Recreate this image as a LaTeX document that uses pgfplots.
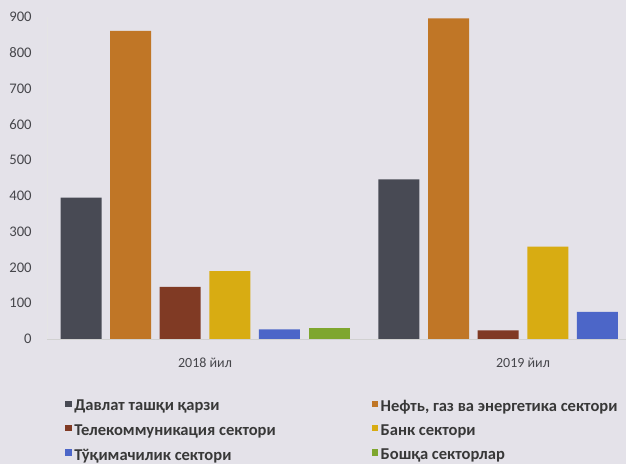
\documentclass[border=0pt]{standalone}
\usepackage{pgfplots}
\pgfplotsset{compat=1.18}
\usepackage{fontspec}
\setmainfont{Carlito}

\definecolor{paper}{RGB}{228,226,233}
\definecolor{txt}{RGB}{70,70,75}
\definecolor{cgray}{RGB}{72,74,84}
\definecolor{corange}{RGB}{192,118,38}
\definecolor{cbrown}{RGB}{128,58,36}
\definecolor{cyellow}{RGB}{216,172,18}
\definecolor{cblue}{RGB}{76,102,200}
\definecolor{cgreen}{RGB}{126,166,46}

% 1 px of the reference = 0.75pt
\begin{document}
\begin{tikzpicture}
\fill[paper] (0pt,0pt) rectangle (469.5pt,348pt);
\useasboundingbox (0pt,0pt) rectangle (469.5pt,348pt);
\begin{axis}[
    at={(35.25pt,93.75pt)}, anchor=south west,
    scale only axis,
    width=434.25pt, height=241.5pt,
    xmin=-0.497, xmax=1.324,
    ymin=0, ymax=900,
    ytick={0,100,...,900},
    xtick={0,1},
    xticklabels={2018 йил, 2019 йил},
    axis x line*=bottom,
    axis y line*=left,
    x axis line style={draw=black!18},
    y axis line style={draw=black!10},
    major tick length=0pt,
    tick label style={text=txt},
    yticklabel style={font=\fontsize{11}{12}\selectfont, xshift=-8pt},
    xticklabel style={font=\fontsize{10.5}{12}\selectfont, yshift=-11pt},
    /pgf/number format/assume math mode=true,
    ybar, bar width=30.75pt,
    every axis plot/.append style={draw=none},
    legend columns=2,
    legend style={at={(0.031,-0.18)}, anchor=north west, draw=none, fill=none,
        font=\bfseries\fontsize{12.4}{14}\selectfont, text=black!78,
        row sep=4.6pt, inner sep=0pt, column sep=0pt},
    legend cell align=left,
    legend image code/.code={\fill[#1] (0pt,-0.3pt) rectangle (4.8pt,4.5pt);},
]
\addplot[fill=cgray, bar shift=-93pt] coordinates {(0,395) (1,446)};
\addlegendentry{\makebox[221pt][l]{Давлат ташқи қарзи}}
\addplot[fill=corange, bar shift=-55.8pt] coordinates {(0,861) (1,896)};
\addlegendentry{Нефть, газ ва энергетика сектори}
\addplot[fill=cbrown, bar shift=-18.6pt] coordinates {(0,146) (1,24)};
\addlegendentry{\makebox[221pt][l]{Телекоммуникация сектори}}
\addplot[fill=cyellow, bar shift=18.6pt] coordinates {(0,190) (1,258)};
\addlegendentry{Банк сектори}
\addplot[fill=cblue, bar shift=55.8pt] coordinates {(0,27) (1,76)};
\addlegendentry{\makebox[221pt][l]{Тўқимачилик сектори}}
\addplot[fill=cgreen, bar shift=93pt] coordinates {(0,30)};
\addlegendentry{Бошқа секторлар}
\end{axis}
\end{tikzpicture}
\end{document}
